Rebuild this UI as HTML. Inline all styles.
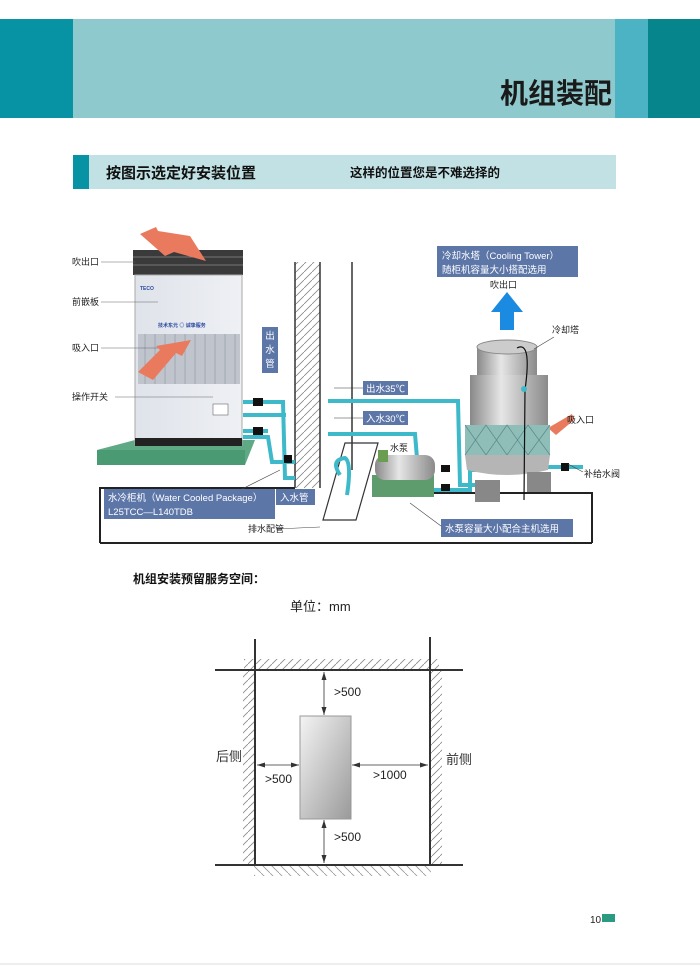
<!DOCTYPE html>
<html><head><meta charset="utf-8"><style>
html,body{margin:0;padding:0;background:#fff;}
svg{display:block;}
text{font-family:"Liberation Sans","Noto Sans CJK SC",sans-serif;}
</style></head><body>
<svg width="700" height="969" viewBox="0 0 700 969" xmlns="http://www.w3.org/2000/svg">
<defs>
<pattern id="h" width="8" height="8" patternUnits="userSpaceOnUse">
<path d="M0 8 L8 0" stroke="#888" stroke-width="0.8"/></pattern>
<pattern id="h2" width="9" height="9" patternUnits="userSpaceOnUse">
<path d="M0 0 L9 9" stroke="#999" stroke-width="0.8"/></pattern>
<linearGradient id="g1" x1="0" y1="0" x2="1" y2="1"><stop offset="0" stop-color="#f4f4f4"/><stop offset="1" stop-color="#9a9a9a"/></linearGradient>
<linearGradient id="tw" x1="0" y1="0" x2="1" y2="0"><stop offset="0" stop-color="#888"/><stop offset="0.4" stop-color="#e6e6e6"/><stop offset="1" stop-color="#8a8a8a"/></linearGradient>
<linearGradient id="cab" x1="0" y1="0" x2="1" y2="0"><stop offset="0" stop-color="#dfe3ea"/><stop offset="1" stop-color="#eef0f4"/></linearGradient>
</defs>
<!-- header -->
<rect x="0" y="19" width="73" height="99" fill="#0793a3"/>
<rect x="73" y="19" width="542" height="99" fill="#8ecacd"/>
<rect x="615" y="19" width="33" height="99" fill="#4bb3c3"/>
<rect x="648" y="19" width="52" height="99" fill="#06858d"/>
<text x="612" y="103" font-size="28" font-weight="bold" text-anchor="end" fill="#1a1a1a">机组装配</text>
<!-- sub bar -->
<rect x="73" y="155" width="543" height="34" fill="#c2e1e4"/>
<rect x="73" y="155" width="16" height="34" fill="#0793a3"/>
<text x="106" y="178" font-size="15" font-weight="bold" fill="#111">按图示选定好安装位置</text>
<text x="350" y="177" font-size="12.5" font-weight="bold" fill="#111">这样的位置您是不难选择的</text>

<!-- floor outline -->
<path d="M100 543 L100 488 L295 488" fill="none" stroke="#222" stroke-width="2"/>
<path d="M385 493 L592 493 L592 543" fill="none" stroke="#222" stroke-width="2"/>
<line x1="100" y1="543" x2="592" y2="543" stroke="#222" stroke-width="2"/>
<!-- wall -->
<rect x="295" y="262" width="25" height="226" fill="url(#h)"/>
<line x1="295" y1="262" x2="295" y2="488" stroke="#333" stroke-width="1.5"/>
<line x1="320" y1="262" x2="320" y2="488" stroke="#333" stroke-width="1.5"/>
<line x1="352" y1="262" x2="352" y2="470" stroke="#333" stroke-width="1.5"/>
<path d="M323 520 L345 443 L378 443 L356 520 Z" fill="none" stroke="#333" stroke-width="1.2"/>
<!-- green base -->
<path d="M97 450 L135 440 L255 440 L245 465 L97 465 Z" fill="#5faa85"/>
<path d="M97 450 L245 450 L245 465 L97 465 Z" fill="#4a9a74"/>
<!-- cabinet -->
<rect x="133" y="250" width="110" height="25" fill="#3a3a3a"/>
<line x1="133" y1="257" x2="243" y2="257" stroke="#777"/>
<line x1="133" y1="265" x2="243" y2="265" stroke="#777"/>
<rect x="135" y="275" width="107" height="170" fill="url(#cab)" stroke="#aaa"/>
<rect x="138" y="334" width="102" height="50" fill="#c0c5cd"/>
<g stroke="#9aa0aa" stroke-width="0.8">
<line x1="145" y1="334" x2="145" y2="384"/><line x1="155" y1="334" x2="155" y2="384"/><line x1="165" y1="334" x2="165" y2="384"/><line x1="175" y1="334" x2="175" y2="384"/><line x1="185" y1="334" x2="185" y2="384"/><line x1="195" y1="334" x2="195" y2="384"/><line x1="205" y1="334" x2="205" y2="384"/><line x1="215" y1="334" x2="215" y2="384"/><line x1="225" y1="334" x2="225" y2="384"/><line x1="235" y1="334" x2="235" y2="384"/>
</g>
<rect x="135" y="438" width="107" height="8" fill="#222"/>
<text x="140" y="290" font-size="5" fill="#2a4aa0" font-weight="bold">TECO</text>
<text x="158" y="327" font-size="5" fill="#2a4aa0" font-weight="bold">技术东元 ◎ 诚挚服务</text>
<rect x="213" y="404" width="15" height="11" fill="#fff" stroke="#666" stroke-width="0.6"/>
<!-- salmon arrows -->
<path d="M140 234 L156 227 L158 231 L190 236 L206 261 L174 252 L165 256 Z" fill="#ea7a5e"/>
<path d="M138 372 L160 350 L156 346 L191 340 L182 356 L176 353 L153 380 Z" fill="#ea7a5e"/>
<path d="M548 428 L572 414 L574 420 L556 435 Z" fill="#ea7a5e"/>
<g font-size="9" fill="#222">
<text x="72" y="265">吹出口</text><text x="72" y="305">前嵌板</text><text x="72" y="351">吸入口</text><text x="72" y="400">操作开关</text>
</g>
<g stroke="#666" stroke-width="0.6">
<line x1="101" y1="262" x2="135" y2="262"/><line x1="101" y1="302" x2="158" y2="302"/><line x1="101" y1="348" x2="158" y2="348"/><line x1="115" y1="397" x2="213" y2="397"/>
</g>
<!-- pipes -->
<g fill="none" stroke="#3db9c9" stroke-width="4">
<path d="M243 402 L283 402 L285 478 L295 478"/>
<path d="M243 415 L286 415"/>
<path d="M243 437 L268 437 L272 462 L295 462"/>
<path d="M243 431 L268 431"/>
<path d="M328 401 L458 401 L460 485 L490 485"/>
<path d="M328 434 L415 434 L418 470 L430 480"/>
<path d="M430 490 L470 490 L470 470 L490 470"/>
<path d="M548 467 L583 467"/>
<path d="M340 475 Q330 460 345 458 Q352 462 347 495"/>
</g>
<g fill="#111"><rect x="253" y="398" width="10" height="8"/><rect x="253" y="427" width="10" height="8"/><rect x="284" y="455" width="8" height="8"/><rect x="417" y="455" width="7" height="10"/><rect x="441" y="484" width="9" height="7"/><rect x="441" y="465" width="9" height="7"/><rect x="561" y="463" width="8" height="8"/></g>
<!-- pump -->
<rect x="372" y="475" width="62" height="22" fill="#5e9c6e"/>
<rect x="375" y="455" width="60" height="25" rx="10" fill="url(#tw)"/>
<rect x="378" y="450" width="10" height="12" fill="#6a9d52"/>
<text x="390" y="451" font-size="9" fill="#222">水泵</text>
<!-- tower -->
<rect x="470" y="375" width="78" height="55" fill="url(#tw)"/>
<path d="M477 347 L477 375 L537 375 L537 347" fill="url(#tw)"/>
<ellipse cx="507" cy="347" rx="30" ry="7" fill="#ccc" stroke="#888"/>
<rect x="465" y="425" width="85" height="30" fill="#8fbdb8"/>
<path d="M465 425 L486 455 L507 425 L528 455 L550 425 M465 455 L486 425 L507 455 L528 425 L550 455" stroke="#5a8a88" stroke-width="0.7" fill="none"/>
<path d="M465 455 L550 455 L548 470 Q507 480 467 470 Z" fill="#b5b5b5"/>
<rect x="475" y="480" width="25" height="22" fill="#888"/><rect x="527" y="472" width="24" height="20" fill="#888"/>
<path d="M517 348 Q532 340 525 390 L524 500" fill="none" stroke="#111" stroke-width="1.2"/>
<circle cx="524" cy="389" r="3" fill="#3db9c9"/>
<path d="M500 330 L500 312 L491 312 L507 292 L523 312 L514 312 L514 330 Z" fill="#1a8be0"/>
<g font-size="9" fill="#222"><text x="490" y="288">吹出口</text><text x="552" y="333">冷却塔</text><text x="567" y="423">吸入口</text><text x="584" y="477">补给水阀</text><text x="248" y="532">排水配管</text></g>
<g stroke="#444" stroke-width="0.6" fill="none"><line x1="554" y1="337" x2="534" y2="349"/><line x1="583" y1="472" x2="568" y2="464"/><line x1="276" y1="529" x2="320" y2="527"/><line x1="441" y1="526" x2="410" y2="503"/><line x1="240" y1="490" x2="280" y2="470"/></g>
<!-- label boxes -->
<g fill="#5d76a8">
<rect x="437" y="246" width="141" height="31"/>
<rect x="262" y="327" width="16" height="46"/>
<rect x="363" y="381" width="45" height="14"/>
<rect x="363" y="411" width="45" height="14"/>
<rect x="104" y="489" width="171" height="30"/>
<rect x="276" y="489" width="39" height="16"/>
<rect x="441" y="519" width="132" height="18"/>
</g>
<g fill="#fff" font-size="9.5">
<text x="442" y="259">冷却水塔（Cooling Tower）</text>
<text x="442" y="273">随柜机容量大小搭配选用</text>
<text x="270" y="339" text-anchor="middle">出</text><text x="270" y="353" text-anchor="middle">水</text><text x="270" y="367" text-anchor="middle">管</text>
<text x="366" y="392">出水35℃</text>
<text x="366" y="422">入水30℃</text>
<text x="108" y="501">水冷柜机（Water Cooled Package）</text>
<text x="108" y="515">L25TCC—L140TDB</text>
<text x="280" y="501">入水管</text>
<text x="445" y="532">水泵容量大小配合主机选用</text>
</g>
<g stroke="#333" stroke-width="0.6"><line x1="334" y1="388" x2="363" y2="388"/><line x1="334" y1="418" x2="363" y2="418"/></g>

<!-- service space -->
<text x="133" y="583" font-size="12" font-weight="bold" fill="#111">机组安装预留服务空间：</text>
<text x="290" y="611" font-size="13" fill="#222" font-family="'Liberation Serif','Noto Serif CJK SC',serif">单位：mm</text>
<rect x="244" y="659" width="195" height="11" fill="url(#h)"/>
<rect x="243" y="670" width="11" height="195" fill="url(#h)"/>
<rect x="431" y="670" width="11" height="195" fill="url(#h)"/>
<rect x="254" y="865" width="177" height="11" fill="url(#h2)"/>
<g stroke="#333" stroke-width="2">
<line x1="215" y1="670" x2="463" y2="670"/><line x1="215" y1="865" x2="463" y2="865"/>
<line x1="255" y1="639" x2="255" y2="866"/><line x1="430" y1="637" x2="430" y2="866"/>
</g>
<rect x="300" y="716" width="51" height="103" fill="url(#g1)" stroke="#999"/>
<g stroke="#333" stroke-width="0.8"><line x1="324" y1="672" x2="324" y2="715"/><line x1="324" y1="820" x2="324" y2="863"/><line x1="257" y1="765" x2="299" y2="765"/><line x1="352" y1="765" x2="428" y2="765"/></g>
<g fill="#333">
<path d="M324 672 l-2.5 8 h5z"/><path d="M324 715 l-2.5 -8 h5z"/><path d="M324 820 l-2.5 8 h5z"/><path d="M324 863 l-2.5 -8 h5z"/>
<path d="M257 765 l8 -2.5 v5z"/><path d="M299 765 l-8 -2.5 v5z"/><path d="M352 765 l8 -2.5 v5z"/><path d="M428 765 l-8 -2.5 v5z"/>
</g>
<g font-size="12" fill="#222">
<text x="334" y="696">&gt;500</text><text x="334" y="841">&gt;500</text><text x="265" y="783">&gt;500</text><text x="373" y="779">&gt;1000</text>
</g>
<g font-size="13" fill="#333" font-family="'Liberation Serif','Noto Serif CJK SC',serif"><text x="216" y="761">后侧</text><text x="446" y="764">前侧</text></g>
<text x="590" y="923" font-size="10" fill="#222">10</text>
<rect x="602" y="914" width="13" height="8" fill="#2a9a80"/>
<line x1="0" y1="964" x2="700" y2="964" stroke="#ddd"/>
</svg>
</body></html>
